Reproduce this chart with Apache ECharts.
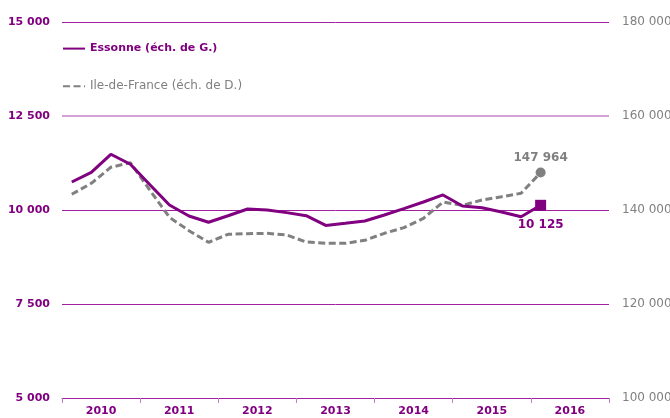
<!DOCTYPE html>
<html>
<head>
<meta charset="utf-8">
<script src="https://cdn.jsdelivr.net/npm/echarts@6/dist/echarts.min.js"></script>
<style>html,body{margin:0;padding:0;background:#fff}#c{width:670px;height:418px}</style>
</head>
<body>
<div id="c"></div>
<script>
const years = ['2010', '2011', '2012', '2013', '2014', '2015', '2016'];
const quarterNames = ['T1', 'T2', 'T3', 'T4'];
const essonneName = 'Essonne (éch. de G.)';
const idfName = 'Ile-de-France (éch. de D.)';
const essonne = [10745, 11003, 11482, 11216, 10673, 10133, 9840, 9673, 9848, 10027, 10000, 9930, 9848, 9590, 9645, 9707, 9867, 10035, 10213, 10400, 10106, 10062, 9947, 9822, 10125];
const idf = [143340, 145680, 149090, 150070, 144190, 138450, 135600, 133120, 134830, 134960, 135040, 134680, 133190, 132900, 132900, 133550, 135040, 136240, 138230, 141700, 141000, 142130, 142830, 143550, 147964];
const leftTicks = [5000, 15000, 2500];
const rightTicks = [100000, 180000, 20000];
const lightGridValue = 12500;

const quarters = years.flatMap(y => quarterNames.map(q => y + ' ' + q));
const fmt = v => String(v).replace(/\B(?=(\d{3})+(?!\d))/g, ' ');
const PURPLE = '#800080';
const GRID = '#a020a0';
const GRAY = '#808080';
const FONT = 'DejaVu Sans';
const lastE = essonne.length - 1, lastI = idf.length - 1;

const chart = echarts.init(document.getElementById('c'), null, {renderer: 'canvas'});
chart.setOption({
  animation: false,
  backgroundColor: '#fff',
  grid: {left: 62, right: 61, top: 22, bottom: 20, containLabel: false, outerBoundsMode: 'none'},
  legend: {
    orient: 'vertical', left: 62, top: 43, padding: 0, itemWidth: 22, itemHeight: 14, itemGap: 26,
    itemStyle: {color: 'transparent', borderWidth: 0, opacity: 0},
    data: [
      {name: essonneName, textStyle: {color: PURPLE, fontWeight: 'bold', fontSize: 11, fontFamily: FONT}},
      {name: idfName, textStyle: {color: GRAY, fontWeight: 'normal', fontSize: 12, fontFamily: FONT}}
    ]
  },
  xAxis: [
    {type: 'category', data: quarters, boundaryGap: true, show: false, gridIndex: 0},
    {type: 'category', data: years, boundaryGap: true, position: 'bottom', gridIndex: 0,
     axisLine: {lineStyle: {color: GRID, width: 1}},
     axisTick: {show: true, length: 5, lineStyle: {color: '#c080c0'}},
     axisLabel: {color: PURPLE, fontWeight: 'bold', fontSize: 11, fontFamily: FONT, margin: 8},
     splitLine: {show: false}}
  ],
  yAxis: [
    {type: 'value', min: leftTicks[0], max: leftTicks[1], interval: leftTicks[2], position: 'left',
     axisLine: {show: false}, axisTick: {show: false},
     axisLabel: {color: PURPLE, fontWeight: 'bold', fontSize: 11, fontFamily: FONT, margin: 12, formatter: fmt},
     splitLine: {show: true, lineStyle: {color: GRID, width: 1, opacity: 1}}},
    {type: 'value', min: rightTicks[0], max: rightTicks[1], interval: rightTicks[2], position: 'right',
     axisLine: {show: false}, axisTick: {show: false},
     axisLabel: {color: GRAY, fontSize: 12, fontFamily: FONT, margin: 13, formatter: fmt},
     splitLine: {show: false}}
  ],
  series: [
    {name: idfName, type: 'line', xAxisIndex: 0, yAxisIndex: 1, data: idf, symbol: 'none',
     lineStyle: {color: GRAY, width: 3, type: [7, 3.5]}, itemStyle: {color: GRAY}, z: 3},
    {name: essonneName, type: 'line', xAxisIndex: 0, yAxisIndex: 0, data: essonne, symbol: 'none',
     lineStyle: {color: PURPLE, width: 3}, itemStyle: {color: PURPLE}, z: 4,
     markLine: {silent: true, symbol: 'none', label: {show: false}, z: 1,
       lineStyle: {color: '#d4a2d4', width: 2, type: 'solid'}, data: [{yAxis: lightGridValue}]}},
    {type: 'scatter', xAxisIndex: 0, yAxisIndex: 1, symbol: 'circle', symbolSize: 10,
     itemStyle: {color: GRAY, opacity: 1}, data: [[lastI, idf[lastI]]], z: 5,
     label: {show: true, position: 'top', distance: 4, color: GRAY, fontWeight: 'bold', fontSize: 12, fontFamily: FONT,
       formatter: p => fmt(p.value[1])}},
    {type: 'scatter', xAxisIndex: 0, yAxisIndex: 0, symbol: 'rect', symbolSize: 11,
     itemStyle: {color: PURPLE, opacity: 1}, data: [[lastE, essonne[lastE]]], z: 6,
     label: {show: true, position: 'bottom', distance: 8, color: PURPLE, fontWeight: 'bold', fontSize: 12, fontFamily: FONT,
       formatter: p => fmt(p.value[1])}}
  ]
});
</script>
</body>
</html>
